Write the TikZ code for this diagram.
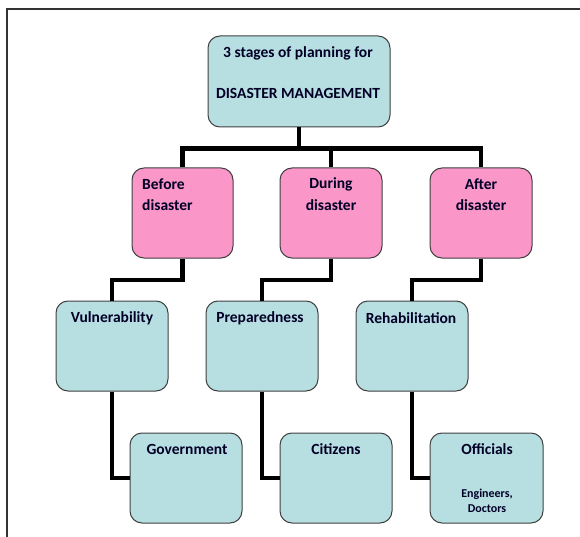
\documentclass[tikz,border=0pt]{standalone}
\usepackage{fontspec}
\setmainfont{Carlito}
\begin{document}
\begin{tikzpicture}[x=1pt,y=-1pt,
  box/.style={draw=black!75, line width=1pt, rounded corners=12pt, inner sep=0pt},
  bluebox/.style={box, fill=boxblue},
  pinkbox/.style={box, fill=boxpink},
  lbl/.style={font=\fontsize{15.5}{18}\selectfont\bfseries, text=black!85!blue, inner sep=0pt},
  small/.style={font=\fontsize{12}{15}\selectfont\bfseries, text=black!85!blue, inner sep=0pt, align=center},
  conn/.style={line width=4.5pt, black}
]
\definecolor{boxblue}{RGB}{183,222,225}
\definecolor{boxpink}{RGB}{250,150,200}
\useasboundingbox (0,0) rectangle (580,537);
\draw[line width=1.2pt, black!80] (7,537) -- (7,9) -- (580,9);

% boxes
\node[bluebox, minimum width=182pt, minimum height=91pt] (root) at (299,81.5) {};
\node[pinkbox, minimum width=101pt, minimum height=90pt] (before) at (182.5,213) {};
\node[pinkbox, minimum width=102pt, minimum height=90pt] (during) at (331,213) {};
\node[pinkbox, minimum width=102pt, minimum height=90pt] (after) at (481,213) {};
\node[bluebox, minimum width=112pt, minimum height=90pt] (vuln) at (112,346) {};
\node[bluebox, minimum width=112pt, minimum height=90pt] (prep) at (262,346) {};
\node[bluebox, minimum width=112pt, minimum height=90pt] (rehab) at (412,346) {};
\node[bluebox, minimum width=112pt, minimum height=90pt] (gov) at (186,478) {};
\node[bluebox, minimum width=112pt, minimum height=90pt] (cit) at (336,478) {};
\node[bluebox, minimum width=113pt, minimum height=90pt] (off) at (486.5,478) {};

% connectors
\coordinate (bar) at ([yshift=-21pt]root.south);
\draw[conn] (root.south) -- (bar);
\draw[conn] (before.north) |- (bar) -| (after.north);
\draw[conn] (during.north) -- (during.north |- bar);
\draw[conn] (before.south) -- ++(0,21.5) -| (vuln.north);
\draw[conn] (during.south) -- ++(0,21.5) -| (prep.north);
\draw[conn] (after.south) -- ++(0,21.5) -| (rehab.north);
\draw[conn] (vuln.south) |- (gov.west);
\draw[conn] (prep.south) |- (cit.west);
\draw[conn] (rehab.south) |- (off.west);

% texts
\node[lbl] (t0a) at (298,53) {3 stages of planning for};
\node[lbl] (t0b) at (298,93) {DISASTER MANAGEMENT};
\node[lbl, anchor=west] (t1a) at (142,184) {Before};
\node[lbl, anchor=west] (t1b) at (142,205) {disaster};
\node[lbl] (t2a) at (331,184) {During};
\node[lbl] (t2b) at (331,205) {disaster};
\node[lbl] (t3a) at (481,184) {After};
\node[lbl] (t3b) at (481,205) {disaster};
\node[lbl] (t4) at (112,318) {Vulnerability};
\node[lbl] (t5) at (260,318) {Preparedness};
\node[lbl] (t6) at (411,318) {Rehabilitation};
\node[lbl] (t7) at (187,449) {Government};
\node[lbl] (t8) at (336,449) {Citizens};
\node[lbl] (t9) at (487,449) {Officials};
\node[small] (t10) at (487,500.5) {Engineers,\\Doctors};
\end{tikzpicture}
\end{document}
